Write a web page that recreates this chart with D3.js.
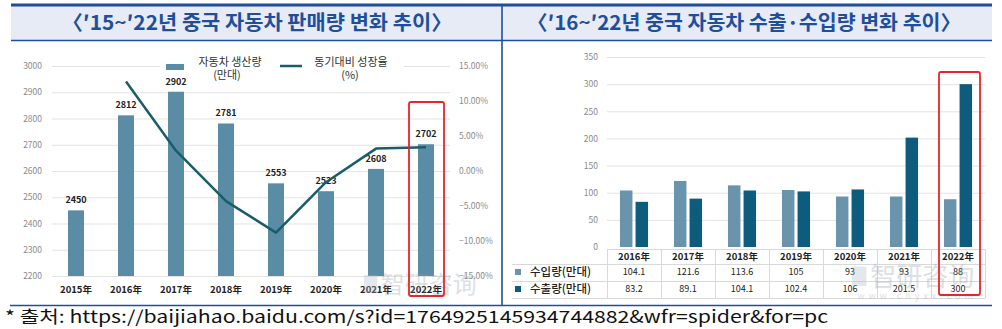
<!DOCTYPE html>
<html>
<head>
<meta charset="utf-8">
<script src="https://cdn.jsdelivr.net/npm/d3@7"></script>
<style>
  html, body { margin: 0; padding: 0; background: #fff; }
  svg { display: block; }
  text { font-family: "Noto Sans CJK KR", "Noto Sans", sans-serif; }
</style>
</head>
<body>
<svg id="chart" width="1002" height="329"></svg>
<script>
// ---- data: production & growth (left panel) ----
const salesYears = ["2015年", "2016年", "2017年", "2018年", "2019年", "2020年", "2021年", "2022年"];
const production = [2450, 2812, 2902, 2781, 2553, 2523, 2608, 2702];
const growthYears = ["2016年", "2017年", "2018年", "2019年", "2020年", "2021年", "2022年"];
const growthPct = [12.8, 2.9, -4.3, -8.8, -1.6, 3.2, 3.4];
const prodTicks = [2200, 2300, 2400, 2500, 2600, 2700, 2800, 2900, 3000];
const pctTicks = [-15, -10, -5, 0, 5, 10, 15];

// ---- data: imports & exports (right panel) ----
const tradeYears = ["2016年", "2017年", "2018年", "2019年", "2020年", "2021年", "2022年"];
const imports = [104.1, 121.6, 113.6, 105, 93, 93, 88];
const exports = [83.2, 89.1, 104.1, 102.4, 106, 201.5, 300];
const tradeTicks = [0, 50, 100, 150, 200, 250, 300, 350];
const tradeSeries = ["수입량(만대)", "수출량(만대)"];

const titleLeft = "〈′15~′22년 중국 자동차 판매량 변화 추이〉";
const titleRight = "〈′16~′22년 중국 자동차 수출·수입량 변화 추이〉";
const sourceText = "* 출처: https://baijiahao.baidu.com/s?id=1764925145934744882&wfr=spider&for=pc";

const svg = d3.select("#chart");
const navy = "#1f4f9c";
const gridColor = "#e3e3e3";
const tickColor = "#8a8a8a";
const barLeft = "#5a8da5";
const lineColor = "#1a5d6a";
const impColor = "#6a94ab";
const expColor = "#0d5c7d";

// ---- frame: header band and borders ----
svg.append("rect").attr("x", 11).attr("y", 6).attr("width", 981).attr("height", 34).attr("fill", "#e6ebf5");
svg.append("line").attr("x1", 11).attr("x2", 992).attr("y1", 5).attr("y2", 5).attr("stroke", navy).attr("stroke-width", 3);
svg.append("line").attr("x1", 11).attr("x2", 992).attr("y1", 40.5).attr("y2", 40.5).attr("stroke", navy).attr("stroke-width", 1.6);
svg.append("line").attr("x1", 502).attr("x2", 502).attr("y1", 4).attr("y2", 306).attr("stroke", navy).attr("stroke-width", 1.6);
svg.append("line").attr("x1", 10).attr("x2", 992).attr("y1", 305.5).attr("y2", 305.5).attr("stroke", navy).attr("stroke-width", 1.6);

svg.append("text").attr("x", 257).attr("y", 30).attr("text-anchor", "middle")
  .attr("font-size", 20).attr("font-weight", 700).attr("fill", navy)
  .attr("textLength", 390).attr("lengthAdjust", "spacingAndGlyphs").text(titleLeft);
svg.append("text").attr("x", 744).attr("y", 30).attr("text-anchor", "middle")
  .attr("font-size", 20).attr("font-weight", 700).attr("fill", navy)
  .attr("textLength", 434).attr("lengthAdjust", "spacingAndGlyphs").text(titleRight);

svg.append("text").attr("x", 5).attr("y", 323).attr("font-size", 17).attr("fill", "#111")
  .attr("textLength", 823).attr("lengthAdjust", "spacingAndGlyphs").text(sourceText);

// ---- left panel ----
const L = svg.append("g");
const xL = d3.scaleBand().domain(salesYears).range([51, 451]).paddingInner(0.68).paddingOuter(0.34);
const yL = d3.scaleLinear().domain([2200, 3000]).range([276, 66]);
const yP = d3.scaleLinear().domain([-15, 15]).range([276, 66]);

L.append("g").selectAll("line").data(prodTicks).join("line")
  .attr("x1", 52).attr("x2", 450).attr("y1", d => yL(d) + 0.5).attr("y2", d => yL(d) + 0.5)
  .attr("stroke", gridColor).attr("stroke-width", 1);

const axL = L.append("g").attr("transform", "translate(42,0)")
  .call(d3.axisLeft(yL).tickValues(prodTicks).tickSize(0).tickPadding(0).tickFormat(d3.format("d")));
axL.select(".domain").remove();
axL.selectAll("text").attr("font-size", 8.5).attr("fill", tickColor).attr("font-family", "Liberation Sans, sans-serif");

const axR = L.append("g").attr("transform", "translate(459,0)")
  .call(d3.axisRight(yP).tickValues(pctTicks).tickSize(0).tickPadding(0).tickFormat(d => d3.format(".2f")(d) + "%"));
axR.select(".domain").remove();
axR.selectAll("text").attr("font-size", 8.5).attr("fill", tickColor).attr("font-family", "Liberation Sans, sans-serif");

// legend (white backdrop over top gridline)
L.append("rect").attr("x", 160).attr("y", 56).attr("width", 244).attr("height", 28).attr("fill", "#fff");
L.append("rect").attr("x", 166).attr("y", 64).attr("width", 18).attr("height", 6).attr("fill", barLeft);
L.append("text").attr("x", 230).attr("y", 66).attr("text-anchor", "middle").attr("font-size", 11).attr("fill", "#333").text("자동차 생산량");
L.append("text").attr("x", 227).attr("y", 79).attr("text-anchor", "middle").attr("font-size", 11).attr("fill", "#333").text("(만대)");
L.append("line").attr("x1", 280).attr("x2", 302).attr("y1", 66).attr("y2", 66).attr("stroke", lineColor).attr("stroke-width", 2.5);
L.append("text").attr("x", 351).attr("y", 66).attr("text-anchor", "middle").attr("font-size", 11).attr("fill", "#333").text("동기대비 성장율");
L.append("text").attr("x", 350).attr("y", 79).attr("text-anchor", "middle").attr("font-size", 11).attr("fill", "#333").text("(%)");

L.append("g").selectAll("rect").data(production).join("rect")
  .attr("x", (d, i) => xL(salesYears[i])).attr("width", xL.bandwidth())
  .attr("y", d => yL(d)).attr("height", d => yL(2200) - yL(d)).attr("fill", barLeft);

L.append("g").selectAll("text").data(production).join("text")
  .attr("x", (d, i) => xL(salesYears[i]) + xL.bandwidth() / 2).attr("y", d => yL(d) - 7)
  .attr("text-anchor", "middle").attr("font-size", 9).attr("font-weight", 700).attr("fill", "#222")
  .attr("font-family", "Liberation Sans, sans-serif").text(d => d);

L.append("path").datum(growthPct)
  .attr("d", d3.line().x((d, i) => xL(growthYears[i]) + xL.bandwidth() / 2).y(d => yP(d)))
  .attr("fill", "none").attr("stroke", lineColor).attr("stroke-width", 2.5).attr("stroke-linejoin", "round");

L.append("g").selectAll("text").data(salesYears).join("text")
  .attr("x", d => xL(d) + xL.bandwidth() / 2).attr("y", 293)
  .attr("text-anchor", "middle").attr("font-size", 9.5).attr("font-weight", 700).attr("fill", "#222").text(d => d);

// ---- right panel ----
const R = svg.append("g");
const x0 = d3.scaleBand().domain(tradeYears).range([607, 985]).paddingInner(0.48).paddingOuter(0.24);
const x1 = d3.scaleBand().domain(tradeSeries).range([0, x0.bandwidth()]).paddingInner(0.2);
const yT = d3.scaleLinear().domain([0, 350]).range([247, 57]);
const colorT = d3.scaleOrdinal().domain(tradeSeries).range([impColor, expColor]);

R.append("g").selectAll("line").data(tradeTicks.filter(d => d > 0)).join("line")
  .attr("x1", 607).attr("x2", 985).attr("y1", d => yT(d) + 0.5).attr("y2", d => yT(d) + 0.5)
  .attr("stroke", gridColor).attr("stroke-width", 1);

const axT = R.append("g").attr("transform", "translate(598,0)")
  .call(d3.axisLeft(yT).tickValues(tradeTicks).tickSize(0).tickPadding(0));
axT.select(".domain").remove();
axT.selectAll("text").attr("font-size", 8.5).attr("fill", tickColor).attr("font-family", "Liberation Sans, sans-serif");

const rows = tradeYears.map((y, i) => ({ year: y, vals: [imports[i], exports[i]] }));
R.append("g").selectAll("g").data(rows).join("g")
  .attr("transform", d => `translate(${x0(d.year)},0)`)
  .selectAll("rect").data(d => d.vals.map((v, k) => ({ key: tradeSeries[k], v })))
  .join("rect")
  .attr("x", d => x1(d.key)).attr("width", x1.bandwidth())
  .attr("y", d => yT(d.v)).attr("height", d => yT(0) - yT(d.v)).attr("fill", d => colorT(d.key));

// data table under the axis
const tableEdges = [607].concat(tradeYears.map(y => x0(y) - x0.step() * x0.paddingInner() / 2 + x0.step()));
const tg = R.append("g").attr("stroke", "#d9d9d9").attr("stroke-width", 1);
tg.append("line").attr("x1", 607).attr("x2", 985).attr("y1", 249.5).attr("y2", 249.5);
[264.5, 281.5, 298.5].forEach(y => tg.append("line").attr("x1", 512).attr("x2", 985).attr("y1", y).attr("y2", y));
tg.selectAll("line.v").data(tableEdges).join("line").attr("class", "v")
  .attr("x1", d => Math.round(d) + 0.5).attr("x2", d => Math.round(d) + 0.5).attr("y1", 249).attr("y2", 298);

R.append("g").selectAll("text").data(tradeYears).join("text")
  .attr("x", d => x0(d) + x0.bandwidth() / 2).attr("y", 260)
  .attr("text-anchor", "middle").attr("font-size", 9.5).attr("font-weight", 700).attr("fill", "#222").text(d => d);

[imports, exports].forEach((vals, k) => {
  const yRow = k === 0 ? 276 : 293;
  R.append("rect").attr("x", 515).attr("y", yRow - 7).attr("width", 6).attr("height", 6).attr("fill", colorT(tradeSeries[k]));
  R.append("text").attr("x", 530).attr("y", yRow).attr("font-size", 11.5).attr("font-weight", 500).attr("fill", "#222").text(tradeSeries[k]);
  R.append("g").selectAll("text").data(vals).join("text")
    .attr("x", (d, i) => x0(tradeYears[i]) + x0.bandwidth() / 2).attr("y", yRow - 1)
    .attr("text-anchor", "middle").attr("font-size", 9).attr("fill", "#222")
    .attr("font-family", "Liberation Sans, sans-serif").text(d => d);
});

// ---- watermarks ----
function watermark(x, y, size, withUrl) {
  const g = svg.append("g").attr("opacity", 0.3).attr("fill", "#8f9aa6");
  g.append("rect").attr("x", x).attr("y", y - size * 0.75).attr("width", size * 0.55).attr("height", size * 0.75).attr("fill", "#a9b4c2");
  g.append("text").attr("x", x + size * 0.7).attr("y", y).attr("font-size", size).text("智研咨询");
  if (withUrl) {
    g.append("text").attr("x", x + size * 0.2).attr("y", y + 13).attr("font-size", 9).attr("letter-spacing", 4).text("www.chyxx.com");
  }
}
watermark(364, 293, 24, false);
watermark(852, 286, 26, true);

// ---- highlight boxes on 2022 ----
svg.append("rect").attr("x", 409).attr("y", 102).attr("width", 35).attr("height", 194).attr("rx", 2)
  .attr("fill", "none").attr("stroke", "#e8252b").attr("stroke-width", 1.8);
svg.append("rect").attr("x", 939).attr("y", 72).attr("width", 41).attr("height", 223).attr("rx", 2)
  .attr("fill", "none").attr("stroke", "#e8252b").attr("stroke-width", 1.8);
</script>
</body>
</html>
